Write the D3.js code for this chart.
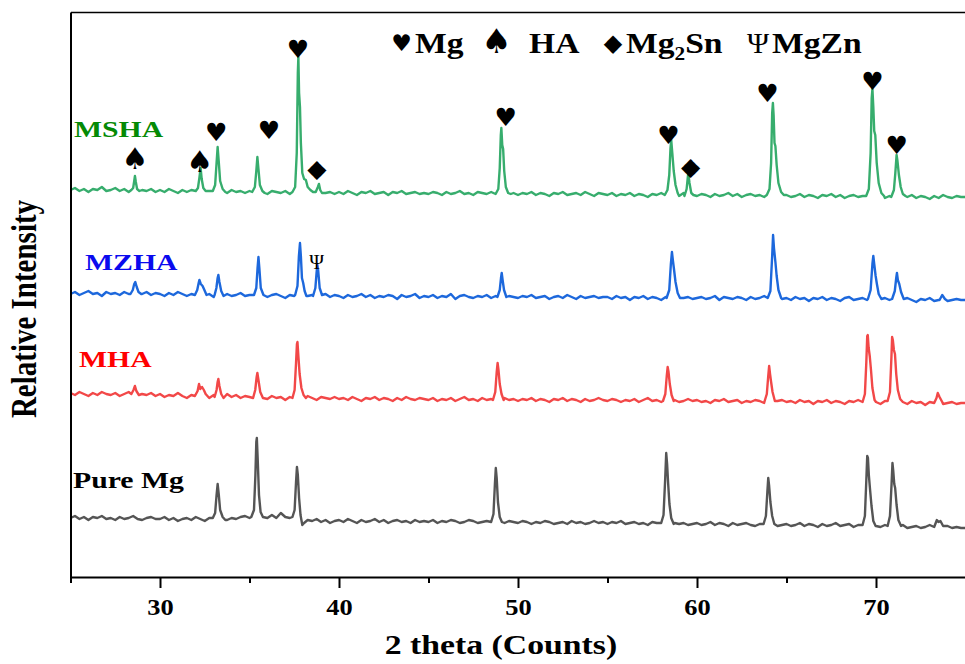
<!DOCTYPE html>
<html><head><meta charset="utf-8">
<script src="https://cdn.jsdelivr.net/npm/d3@7/dist/d3.min.js"></script>
<style>body{margin:0;background:#fff}svg{display:block}</style>
</head><body>
<svg id="chart" width="965" height="664"></svg>
<script>
// ---------------- DATA ----------------
const seriesNames = ["Pure Mg", "MHA", "MZHA", "MSHA"];
const seriesOffsets = [57, 179, 281, 384];           // stacking baseline of each pattern (a.u.)
const xTicks = [30, 40, 50, 60, 70];
const xMinorTicks = [25, 35, 45, 55, 65, 75];
const gridStart = 25, gridStep = 0.25;                // 2θ sampling of the background readings

// background readings (relative intensity) every 0.25° from 25° to 75°
const pureBackground = [
  2,4,1,3,0,3,2,4,1,2,0,3,1,2,4,1,0,2,3,1,
  1,3,0,2,-1,1,2,0,3,1,-1,2,0,1,3,0,2,1,3,4,
  2,1,3,0,2,5,2,7,3,2,0,1,-2,0,-1,1,-2,0,-3,-1,
  0,-2,1,-1,-3,0,-2,-1,1,-2,0,-3,-1,0,-2,-1,-3,0,-2,-1,
  -2,0,-3,-1,-2,0,-1,-3,-2,0,-1,-3,-2,-1,-3,0,-2,-3,-1,-2,
  -3,-1,-2,-4,-2,-3,-1,-2,-4,-3,-2,-4,-1,-3,-2,-4,-3,-1,-3,-2,
  -4,-2,-3,-1,-4,-3,-2,-4,-3,-5,-2,-3,-4,-2,-5,-3,-4,-3,-5,-4,
  -3,-5,-4,-2,-5,-3,-4,-6,-3,-5,-4,-3,-5,-6,-4,-3,-5,-4,-6,-5,
  -4,-6,-5,-3,-6,-4,-5,-7,-4,-6,-5,-3,-6,-5,-4,-7,-5,-6,-4,-5,
  -6,-7,-5,-8,-6,-7,-5,-8,-7,-6,-8,-7,-5,-8,-7,-9,-6,-8,-7,-8,
  -8];
const mhaBackground = [
  5,3,6,4,2,5,3,6,4,3,5,2,4,6,3,1,4,3,5,2,
  4,1,3,2,5,2,0,3,1,4,2,0,3,1,2,4,1,3,0,2,
  1,3,0,2,-1,2,0,1,-2,1,3,0,-1,2,0,-2,1,0,-1,1,
  -1,0,-2,1,-1,-3,0,-1,1,-2,0,-1,-3,0,-2,1,-1,-2,0,-1,
  -2,0,-3,-1,-2,0,-3,-1,1,-2,-1,-3,0,-2,-1,-3,-2,0,-2,-1,
  -3,-1,-2,0,-3,-1,-2,-4,-1,-2,0,-3,-1,-2,-4,-1,-3,-2,0,-2,
  -3,-1,-2,-4,-2,-3,-1,-4,-2,0,-3,-2,-4,-1,-3,-2,-4,-3,-1,-3,
  -2,-4,-3,-5,-2,-3,-1,-4,-3,-2,-5,-3,-4,-2,-3,-5,-2,-4,-3,-2,
  -4,-3,-5,-2,-4,-3,-6,-3,-4,-2,-5,-3,-4,-6,-3,-4,-2,-5,-4,-3,
  -4,-6,-3,-5,-4,-2,-5,-6,-3,-5,-4,-7,-4,-5,-3,-6,-5,-4,-6,-5,
  -5];
const mzhaBackground = [
  2,4,1,3,5,2,3,0,4,2,3,1,4,2,0,3,2,4,1,3,
  2,0,3,1,4,2,0,2,3,1,0,2,-1,3,1,2,0,1,3,0,
  1,3,0,2,-1,1,2,0,-2,1,0,2,-1,0,1,-2,0,2,-1,1,
  0,-2,1,-1,0,2,-1,1,-2,0,-1,1,0,-3,1,-1,0,2,-2,0,
  -1,1,-2,0,-1,2,-3,0,1,-1,-2,0,-1,1,-2,0,-1,-3,0,-1,
  -2,0,-1,1,-2,-1,0,-3,-1,0,-2,1,-1,-3,0,-2,-1,0,-2,-1,
  -1,-3,0,-2,-1,-4,-1,-2,0,-3,-1,-2,-4,-1,-2,0,-3,-2,-1,-3,
  -2,-1,-3,-2,0,-4,-1,-2,-3,-1,-2,-4,-1,-3,-2,0,-3,-1,-2,-3,
  -2,-4,-1,-3,-2,-5,-2,-3,-1,-4,-2,-3,-5,-2,-1,-4,-3,-2,-4,-3,
  -3,-5,-2,-4,-3,-5,-4,-2,-4,-6,-3,-4,-2,-5,-4,-3,-5,-4,-3,-4,
  -4];
const mshaBackground = [
  3,5,2,4,1,4,3,6,2,3,5,2,4,1,3,5,3,2,4,1,
  3,1,4,2,0,3,1,3,2,4,0,2,1,3,2,0,3,1,2,0,
  2,0,1,3,-1,2,1,0,2,-1,1,3,0,2,-1,1,2,0,1,-1,
  1,-1,2,0,-2,1,0,2,-1,0,1,-2,1,0,2,-1,0,1,-1,0,
  -1,1,0,-2,1,-1,0,2,-1,0,-2,1,0,-1,1,-2,0,1,-1,0,
  -2,0,-1,1,-2,0,-1,-3,0,-1,1,-2,-1,0,-2,1,-1,-3,0,-1,
  -2,0,-3,-1,-2,0,-3,-1,-2,-4,-1,-2,0,-3,-1,-2,-3,0,-2,-1,
  -3,-1,-2,-4,-1,-3,-2,0,-3,-1,-4,-2,-1,-3,-2,-4,-1,-2,-3,-1,
  -2,-4,-3,-1,-4,-2,-3,-5,-2,-3,-1,-4,-2,-5,-3,-2,-4,-3,-1,-3,
  -4,-2,-5,-3,-4,-6,-3,-4,-2,-5,-3,-4,-6,-3,-5,-2,-4,-5,-3,-4,
  -4];

// diffraction peaks: [2θ, relative intensity] readings
const purePeaks = [
  [[32.95,2],[33.08,7],[33.16,25],[33.22,36],[33.28,26],[33.36,10],[33.5,3],[33.65,0]],
  [[35.1,3],[35.25,10],[35.33,45],[35.38,78],[35.41,82],[35.46,60],[35.53,25],[35.62,8],[35.75,3]],
  [[37.4,3],[37.52,10],[37.6,38],[37.65,53],[37.7,45],[37.77,22],[37.85,5],[37.95,-5],[38.05,-3]],
  [[48.5,-2],[48.63,6],[48.71,36],[48.76,52],[48.81,42],[48.88,18],[48.98,3],[49.1,-2]],
  [[58.0,-3],[58.13,5],[58.22,40],[58.28,67],[58.33,56],[58.39,36],[58.46,16],[58.56,2],[58.7,-4]],
  [[63.72,-4],[63.85,4],[63.93,28],[63.98,42],[64.03,34],[64.1,18],[64.2,4],[64.32,-4]],
  [[69.25,-5],[69.38,4],[69.46,40],[69.51,64],[69.55,62],[69.6,45],[69.67,30],[69.75,14],[69.85,-1],[69.98,-6]],
  [[70.65,-6],[70.78,4],[70.87,36],[70.92,57],[70.96,50],[71.02,36],[71.07,32],[71.15,15],[71.25,0],[71.4,-6]],
  [[73.25,-7],[73.4,0],[73.5,-2],[73.6,-1],[73.75,-6]]
];
const mhaPeaks = [
  [[28.4,4],[28.52,8],[28.6,12],[28.68,7],[28.82,3]],
  [[31.95,2],[32.1,7],[32.18,14],[32.25,9],[32.35,11],[32.45,8],[32.55,4],[32.7,1]],
  [[33.05,1],[33.16,8],[33.22,16],[33.26,19],[33.32,12],[33.42,4],[33.55,0]],
  [[35.2,0],[35.32,8],[35.4,21],[35.44,25],[35.5,18],[35.6,6],[35.75,0]],
  [[37.4,0],[37.52,8],[37.6,35],[37.65,54],[37.68,56],[37.73,42],[37.8,24],[37.9,10],[38.02,3],[38.15,0]],
  [[48.6,-2],[48.73,6],[48.81,26],[48.86,35],[48.91,28],[48.98,14],[49.08,4],[49.2,-2]],
  [[58.1,-3],[58.23,4],[58.31,22],[58.36,31],[58.41,26],[58.48,14],[58.58,3],[58.7,-3]],
  [[63.78,-3],[63.9,4],[63.98,22],[64.03,32],[64.08,24],[64.14,16],[64.22,6],[64.35,-3]],
  [[69.25,-4],[69.38,4],[69.46,36],[69.51,62],[69.54,63],[69.59,50],[69.65,42],[69.72,28],[69.8,10],[69.92,-2]],
  [[70.65,-3],[70.78,6],[70.86,40],[70.9,61],[70.94,58],[71.0,48],[71.06,44],[71.13,24],[71.22,8],[71.35,-1],[71.5,-4]],
  [[73.25,-5],[73.38,0],[73.45,5],[73.55,1],[73.7,-4]]
];
const mzhaPeaks = [
  [[28.35,2],[28.48,6],[28.56,12],[28.62,14],[28.7,9],[28.8,4],[28.95,2]],
  [[31.95,1],[32.08,6],[32.16,13],[32.2,16],[32.28,12],[32.38,10],[32.48,6],[32.6,1]],
  [[33.05,1],[33.15,8],[33.22,18],[33.26,21],[33.32,14],[33.42,5],[33.55,0]],
  [[35.25,1],[35.38,8],[35.45,28],[35.5,39],[35.55,28],[35.63,8],[35.78,1]],
  [[37.55,1],[37.68,10],[37.76,40],[37.82,53],[37.87,40],[37.93,18],[38.0,13],[38.08,5],[38.18,0]],
  [[38.55,0],[38.68,8],[38.75,24],[38.79,31],[38.84,25],[38.92,8],[39.05,1]],
  [[48.85,-1],[48.98,6],[49.05,18],[49.09,23],[49.14,16],[49.22,6],[49.35,-1]],
  [[58.3,-2],[58.45,6],[58.54,32],[58.6,44],[58.65,36],[58.72,26],[58.8,14],[58.92,3],[59.05,-2]],
  [[63.95,-2],[64.1,5],[64.2,40],[64.25,61],[64.3,48],[64.38,34],[64.45,20],[64.55,6],[64.7,-2]],
  [[69.55,-3],[69.7,6],[69.8,32],[69.85,40],[69.9,32],[69.98,20],[70.05,12],[70.15,2],[70.3,-3]],
  [[70.9,-3],[71.05,5],[71.13,18],[71.17,23],[71.22,16],[71.3,12],[71.4,4],[71.55,-3]],
  [[73.55,-4],[73.7,1],[73.85,-3]]
];
const mshaPeaks = [
  [[28.4,3],[28.5,5],[28.56,12],[28.6,17],[28.65,11],[28.72,4],[28.85,2]],
  [[32.0,2],[32.12,5],[32.2,15],[32.27,25],[32.33,14],[32.42,5],[32.55,2]],
  [[32.95,2],[33.08,8],[33.16,30],[33.22,46],[33.28,32],[33.36,12],[33.5,4],[33.65,1]],
  [[35.15,1],[35.3,6],[35.38,22],[35.44,36],[35.5,24],[35.58,8],[35.72,2],[35.85,0]],
  [[37.4,1],[37.55,6],[37.64,40],[37.7,120],[37.73,136],[37.77,100],[37.82,86],[37.87,50],[37.95,20],[38.05,14],[38.15,13],[38.25,6],[38.4,3],[38.55,1]],
  [[38.7,1],[38.82,6],[38.88,9],[38.95,3],[39.05,0]],
  [[48.75,-1],[48.9,4],[48.98,25],[49.04,58],[49.07,65],[49.12,48],[49.17,44],[49.23,22],[49.32,6],[49.45,0],[49.6,-1]],
  [[58.2,-2],[58.35,3],[58.45,18],[58.52,45],[58.56,53],[58.62,40],[58.7,22],[58.8,8],[58.92,0],[59.0,-3]],
  [[59.3,-3],[59.42,4],[59.51,20],[59.58,10],[59.68,0],[59.8,-2]],
  [[63.9,-2],[64.05,4],[64.14,30],[64.2,80],[64.24,90],[64.28,78],[64.33,50],[64.38,47],[64.45,28],[64.55,10],[64.7,1],[64.85,-2]],
  [[69.45,-3],[69.6,4],[69.7,40],[69.76,95],[69.8,104],[69.85,86],[69.9,62],[69.96,58],[70.04,30],[70.15,10],[70.3,0],[70.45,-3]],
  [[70.85,-4],[71.0,3],[71.08,20],[71.15,38],[71.2,32],[71.28,18],[71.38,6],[71.5,-1],[71.65,-3]]
];

// phase identification markers
const markerPhase = ["HA","HA","Mg","Mg","Mg","Mg2Sn","Mg","Mg","Mg2Sn","Mg","Mg","Mg","MgZn"];
const markerTheta = [28.6, 32.22, 33.14, 36.09, 37.71, 38.77, 49.31, 58.40, 59.65, 63.93, 69.80, 71.16, 38.75];
const markerLevel = [417, 414, 445, 447, 528, 408, 460, 442, 410, 484, 496, 432, 315];

const legendPhases = ["Mg", "HA", "Mg2Sn", "MgZn"];
const legendLabels = ["Mg", "HA", "Mg₂Sn", "MgZn"];

// ---------------- STYLE ----------------
const lineColors = ["#555555", "#f24848", "#1d68dc", "#37ad6d"];
const labelColors = ["#000000", "#ff0000", "#0a0aee", "#058a05"];
const phaseSymbol = {Mg: "♥", HA: "♠", Mg2Sn: "◆", MgZn: "Ψ"};
const markerSize = {Mg: 25, HA: 30, Mg2Sn: 25, MgZn: 20};
const markerShift = {Mg: 0.36, HA: 0.30, Mg2Sn: 0.33, MgZn: 0.33};
const legendSize = {Mg: 23, HA: 34, Mg2Sn: 24, MgZn: 30};

// ---------------- BUILD ----------------
function buildSeries(background, peaks, offset) {
  const pts = [];
  background.forEach((v, i) => {
    const t = gridStart + i * gridStep;
    const inPeak = peaks.some(p => t >= p[0][0] && t <= p[p.length - 1][0]);
    if (!inPeak) pts.push([t, v]);
  });
  peaks.forEach(p => p.forEach(d => pts.push([d[0], d[1]])));
  pts.sort((a, b) => a[0] - b[0]);
  return pts.map(d => [d[0], d[1] + offset]);
}
const allBackground = [pureBackground, mhaBackground, mzhaBackground, mshaBackground];
const allPeaks = [purePeaks, mhaPeaks, mzhaPeaks, mshaPeaks];
const series = seriesNames.map((n, i) => buildSeries(allBackground[i], allPeaks[i], seriesOffsets[i]));

const svg = d3.select("#chart");
const x = d3.scaleLinear().domain([25, 75]).range([70.5, 965.5]);
const y = d3.scaleLinear().domain([0, 565]).range([577, 12]);

const serif = "'Liberation Serif','Times New Roman',serif";
const symFont = "'DejaVu Sans',sans-serif";

// lines
const line = d3.line().x(d => x(d[0])).y(d => y(d[1]));
svg.append("g").selectAll("path").data(series).join("path")
  .attr("d", line).attr("fill", "none")
  .attr("stroke", (d, i) => lineColors[i])
  .attr("stroke-width", 2.4).attr("stroke-linejoin", "round");

// axes
const gx = svg.append("g").attr("transform", `translate(0,${y(0)})`)
  .call(d3.axisBottom(x).tickValues(xTicks).tickSize(11).tickSizeOuter(0).tickFormat(d3.format("d")));
gx.select(".domain").attr("stroke", "#000").attr("stroke-width", 2);
gx.selectAll(".tick line").attr("stroke", "#000").attr("stroke-width", 2);
gx.selectAll(".tick text").attr("y", 38).attr("dy", null)
  .attr("transform", "scale(1.15,1)")
  .attr("font-family", serif).attr("font-weight", "bold").attr("font-size", 23).attr("fill", "#000");
const gxm = svg.append("g").attr("transform", `translate(0,${y(0)})`)
  .call(d3.axisBottom(x).tickValues(xMinorTicks).tickSize(6).tickSizeOuter(0).tickFormat(""));
gxm.select(".domain").remove();
gxm.selectAll(".tick line").attr("stroke", "#000").attr("stroke-width", 2);

const gy = svg.append("g").attr("transform", `translate(${x(25)},0)`)
  .call(d3.axisLeft(y).tickValues([]).tickSizeOuter(0));
gy.select(".domain").attr("stroke", "#000").attr("stroke-width", 2);
const gt = svg.append("g").attr("transform", `translate(0,${y(565)})`)
  .call(d3.axisTop(x).tickValues([]).tickSizeOuter(0));
gt.select(".domain").attr("stroke", "#000").attr("stroke-width", 1.5);

// text helper with horizontal stretch
function stext(px, py, str, size, sx, opts = {}) {
  return svg.append("text")
    .attr("transform", `translate(${px},${py}) scale(${sx},1)`)
    .attr("text-anchor", opts.anchor || "start")
    .attr("font-family", opts.family || serif)
    .attr("font-weight", opts.weight || "bold")
    .attr("font-size", size)
    .attr("fill", opts.fill || "#000")
    .text(str);
}

// axis titles
stext(501, 654, "2 theta (Counts)", 27, 1.25, {anchor: "middle"});
svg.append("text")
  .attr("transform", `translate(36,309) rotate(-90) scale(1,1.2)`)
  .attr("text-anchor", "middle").attr("font-family", serif).attr("font-weight", "bold")
  .attr("font-size", 29).attr("fill", "#000").text("Relative Intensity");

// series labels
const labelPos = [[73, 488], [79, 367], [85, 270], [74, 137]];
seriesNames.forEach((n, i) => stext(labelPos[i][0], labelPos[i][1], n, 24, 1.24, {fill: labelColors[i]}));

// markers
markerPhase.forEach((p, i) => {
  const fs = markerSize[p];
  svg.append("text")
    .attr("x", x(markerTheta[i]))
    .attr("y", y(markerLevel[i]) + markerShift[p] * fs)
    .attr("text-anchor", "middle")
    .attr("font-family", p === "MgZn" ? serif : symFont)
    .attr("font-size", fs).attr("fill", "#000")
    .text(phaseSymbol[p]);
});

// legend
const legSymX = [401.5, 496.5, 613, 758];
const legTextX = [415, 529, 626, 772];
legendPhases.forEach((p, i) => {
  const fs = legendSize[p];
  svg.append("text")
    .attr("x", legSymX[i]).attr("y", 43 + markerShift[p] * fs)
    .attr("text-anchor", "middle")
    .attr("font-family", p === "MgZn" ? serif : symFont)
    .attr("font-size", fs).attr("fill", "#000")
    .text(phaseSymbol[p]);
  const t = stext(legTextX[i], 53, "", 30, 1.12);
  if (p === "Mg2Sn") {
    t.append("tspan").text("Mg");
    t.append("tspan").attr("font-size", 19).attr("dy", 7).text("2");
    t.append("tspan").attr("dy", -7).text("Sn");
  } else {
    t.text(legendLabels[i]);
  }
});
</script>
</body></html>
